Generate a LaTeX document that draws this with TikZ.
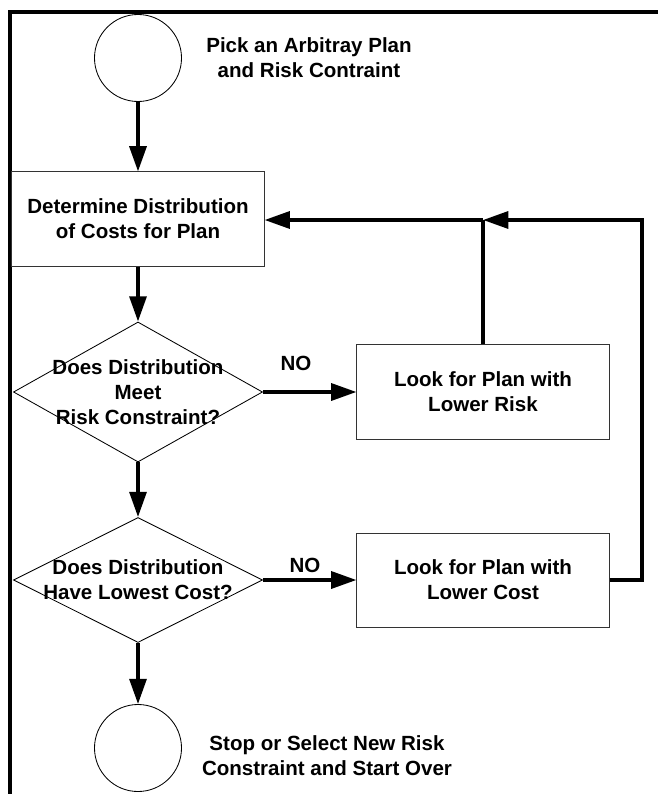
\documentclass[tikz,border=0pt]{standalone}
\usepackage{fontspec}
\setmainfont{Liberation Sans}
\usetikzlibrary{shapes.geometric,arrows.meta}
\tikzset{
  flow/.style={line width=2.6pt,-{Triangle[length=18pt,width=12pt]}},
  txt/.style={font=\bfseries\fontsize{14.6}{17.8}\selectfont,align=center,inner sep=0pt},
  procbox/.style={draw=black!80,line width=0.7pt,minimum width=6.3cm,minimum height=2.35cm,txt},
  decision/.style={draw,diamond,line width=0.6pt,minimum width=6.225cm,minimum height=3.5cm,inner sep=0pt},
  endpt/.style={draw,circle,line width=0.6pt,minimum size=2.175cm,inner sep=0pt}
}
\begin{document}
\begin{tikzpicture}[x=0.025cm,y=-0.025cm]
  \useasboundingbox (0,0) rectangle (658,794);
  \draw[line width=2.4pt] (10,794) -- (10,12) -- (658,12);
  \node[endpt] (start) at (138,58) {};
  \node[txt] (startlbl) at (309,58) {Pick an Arbitray Plan\\and Risk Contraint};
  \node[procbox] (dist) at (138,219) {Determine Distribution\\of Costs for Plan};
  \node[decision] (risk) at (138,392) {};
  \node[txt] (risktxt) at (risk) {Does Distribution\\Meet\\Risk Constraint?};
  \node[procbox] (lowrisk) at (483,392) {Look for Plan with\\Lower Risk};
  \node[decision,minimum height=3.125cm] (cost) at (138,580) {};
  \node[txt] (costtxt) at (cost) {Does Distribution\\Have Lowest Cost?};
  \node[procbox] (lowcost) at (483,580) {Look for Plan with\\Lower Cost};
  \node[endpt] (stop) at (138,748) {};
  \node[txt] (stoplbl) at (327,756) {Stop or Select New Risk\\Constraint and Start Over};
  \node[txt] (no1) at (296,363) {NO};
  \node[txt] (no2) at (305,565) {NO};
  \coordinate (join) at (483,220);
  \coordinate (corner) at (642,220);
  \foreach \a/\b in {start/dist,dist/risk,risk/cost,cost/stop,risk/lowrisk,cost/lowcost}
    \draw[flow] (\a) -- (\b);
  \draw[line width=2.6pt] (lowrisk.north) -- (join);
  \draw[flow] (join) -- (join -| dist.east);
  \draw[flow] (lowcost.east) -| (corner) -- (join);
\end{tikzpicture}
\end{document}
